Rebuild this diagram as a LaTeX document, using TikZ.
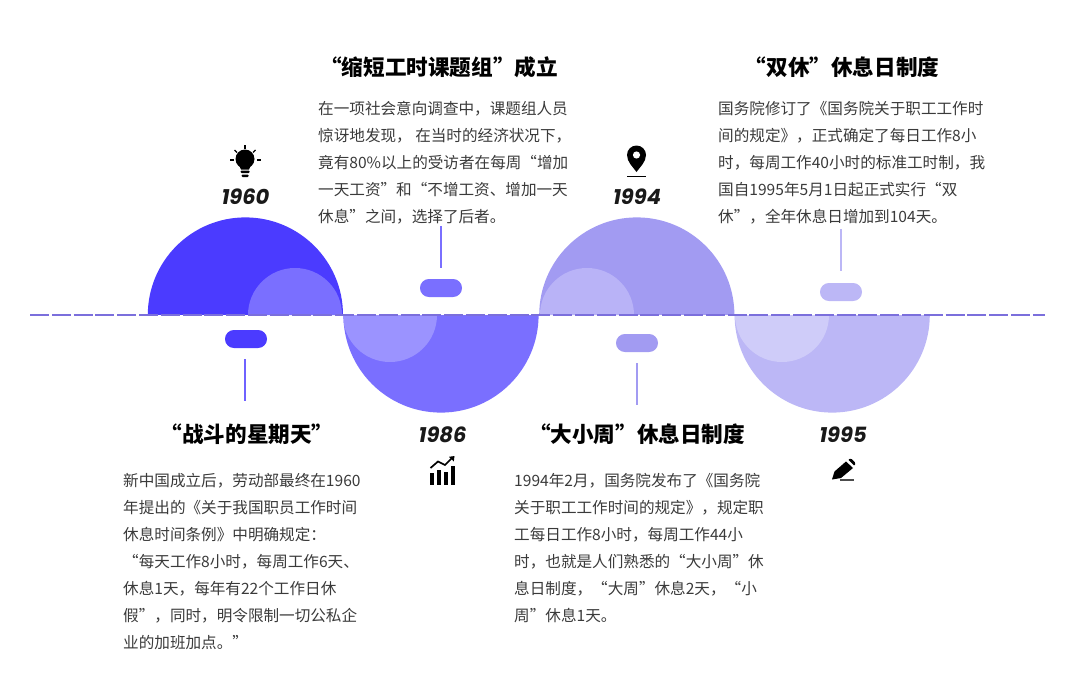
\documentclass[tikz,border=0pt]{standalone}
\usepackage{fontspec}
\newfontfamily\cjk{Noto Sans CJK SC}
\newfontfamily\yearfont{Poppins}
\usepackage{tikz}
\usetikzlibrary{arrows.meta}
\definecolor{blueA}{HTML}{4B3BFF}
\definecolor{blueB}{HTML}{7A6FFF}
\definecolor{blueC}{HTML}{9B93FF}
\definecolor{blueD}{HTML}{A29BF2}
\definecolor{blueE}{HTML}{B9B3F7}
\definecolor{blueF}{HTML}{BCB7F6}
\definecolor{blueG}{HTML}{CFCCF9}
\definecolor{axisline}{HTML}{7B6FDC}
\definecolor{bodygray}{HTML}{3A3A3A}
\tikzset{
  pill/.style={draw=none, rounded corners=8.9pt, minimum width=42pt, minimum height=18pt, inner sep=0pt},
  tick/.style={line width=1.2pt},
  title/.style={anchor=center, text=black, font=\fontsize{21.6}{24}\selectfont\cjk\bfseries},
  body/.style={anchor=north west, align=left, inner sep=0pt, text=bodygray, font=\fontsize{15.6}{27}\selectfont\cjk},
  year/.style={anchor=center, inner sep=0pt, text=black!90, font=\fontsize{21}{24}\selectfont\yearfont\bfseries\itshape},
}

\begin{document}
\begin{tikzpicture}[x=1pt, y=-1pt]
\useasboundingbox (0, 0) rectangle (1080, 677);

\begin{scope}
\clip (147.8, 315) arc[start angle=180, end angle=360, radius=97.6] -- cycle;
\fill[blueA] (147, 210) rectangle (344, 315);
\fill[blueB] (295, 315) circle (47);
\end{scope}
\begin{scope}
\clip (343.4, 315) arc[start angle=180, end angle=0, radius=97.6] -- cycle;
\fill[blueB] (343, 315) rectangle (540, 420);
\fill[blueC] (390, 315) circle (47);
\end{scope}
\begin{scope}
\clip (539.2, 315) arc[start angle=180, end angle=360, radius=97.6] -- cycle;
\fill[blueD] (539, 210) rectangle (736, 315);
\fill[blueE] (587, 315) circle (47);
\end{scope}
\begin{scope}
\clip (734.6, 315) arc[start angle=180, end angle=0, radius=97.6] -- cycle;
\fill[blueF] (734, 315) rectangle (931, 420);
\fill[blueG] (782, 315) circle (47);
\end{scope}

\coordinate (axis_l) at (30, 315);
\coordinate (axis_r) at (1045, 315);
\draw[axisline, line width=1.8pt, dash pattern=on 19pt off 2.8pt] (axis_l) -- (axis_r);

\node[pill, fill=blueA] (pill_1960) at (246, 339) {};
\node[pill, fill=blueB] (pill_1986) at (441, 288) {};
\node[pill, fill=blueD] (pill_1994) at (637, 343) {};
\node[pill, fill=blueF] (pill_1995) at (841, 292) {};

\coordinate (tick_1960a) at (245, 359);
\coordinate (tick_1960b) at (245, 401);
\coordinate (tick_1986a) at (441, 226);
\coordinate (tick_1986b) at (441, 268);
\coordinate (tick_1994a) at (637, 363);
\coordinate (tick_1994b) at (637, 405);
\coordinate (tick_1995a) at (841, 229);
\coordinate (tick_1995b) at (841, 271);
\draw[tick, blueA!80] (tick_1960a) -- (tick_1960b);
\draw[tick, blueB] (tick_1986a) -- (tick_1986b);
\draw[tick, blueD] (tick_1994a) -- (tick_1994b);
\draw[tick, blueF] (tick_1995a) -- (tick_1995b);

\node[year] (year_1960) at (245.5, 197) {1960};
\node[year] (year_1986) at (442.5, 435) {1986};
\node[year] (year_1994) at (637, 197) {1994};
\node[year] (year_1995) at (843, 435) {1995};

\node[title] (title_1960) at (247, 434) {“战斗的星期天”};
\node[title] (title_1986) at (439, 67) {“缩短工时课题组”成立};
\node[title] (title_1994) at (637, 434) {“大小周”休息日制度};
\node[title] (title_1995) at (842, 67) {“双休”休息日制度};

\node[body] (body_1960) at (123, 473) {新中国成立后，劳动部最终在1960\\
    年提出的《关于我国职员工作时间\\
    休息时间条例》中明确规定：\\
    “每天工作8小时，每周工作6天、\\
    休息1天，每年有22个工作日休\\
    假”，同时，明令限制一切公私企\\
    业的加班加点。”};
\node[body] (body_1986) at (318, 101) {在一项社会意向调查中，课题组人员\\
    惊讶地发现， 在当时的经济状况下，\\
    竟有80\%以上的受访者在每周“增加\\
    一天工资”和“不增工资、增加一天\\
    休息”之间，选择了后者。};
\node[body] (body_1994) at (514, 473) {1994年2月，国务院发布了《国务院\\
    关于职工工作时间的规定》，规定职\\
    工每日工作8小时，每周工作44小\\
    时，也就是人们熟悉的“大小周”休\\
    息日制度，“大周”休息2天，“小\\
    周”休息1天。};
\node[body] (body_1995) at (718, 101) {国务院修订了《国务院关于职工工作时\\
    间的规定》，正式确定了每日工作8小\\
    时，每周工作40小时的标准工时制，我\\
    国自1995年5月1日起正式实行“双\\
    休”，全年休息日增加到104天。};

\fill[black] (245, 159) circle (9.5);
\fill[black] (239, 165) -- (251, 165) -- (249, 169.5) -- (241, 169.5) -- cycle;
\fill[black, rounded corners=1pt] (240.5, 170.5) rectangle (249.5, 173);
\fill[black, rounded corners=1pt] (241.5, 174.5) rectangle (248.5, 177);
\draw[black, line width=1.4pt] (245, 145) -- (245, 148.5);
\draw[black, line width=1.4pt] (230, 160) -- (233.5, 160);
\draw[black, line width=1.4pt] (257, 160) -- (260.5, 160);
\draw[black, line width=1.4pt] (234.5, 150) -- (237, 152.5);
\draw[black, line width=1.4pt] (255.5, 150) -- (253, 152.5);

\fill[black] (627, 155) arc[start angle=180, end angle=360, radius=9.5]
    .. controls (646, 162) and (640, 167) .. (636.5, 172)
    .. controls (633, 167) and (627, 162) .. (627, 155) -- cycle;
\fill[white] (636.5, 155) circle (3.6);
\draw[black, line width=1.6pt] (627, 176.5) -- (646, 176.5);

\fill[black] (430, 473) rectangle (433.5, 484.5);
\fill[black] (436.5, 470) rectangle (440.5, 484.5);
\fill[black] (443.5, 472) rectangle (447.5, 484.5);
\fill[black] (450.5, 466) rectangle (455, 484.5);
\draw[black, line width=1.7pt] (430.5, 468) -- (438, 461.5) -- (445, 465) -- (452, 458);
\fill[black] (454.5, 456) -- (453.8, 461.5) -- (449, 456.8) -- cycle;

\fill[black] (832, 479.5) -- (834.5, 471.5) -- (846, 461.5) -- (853, 468) -- (841, 478) -- cycle;
\fill[black, rounded corners=1pt] (848, 459.5) -- (851, 458.5) -- (855.5, 463) -- (854.5, 466) -- cycle;
\draw[black!70, line width=1.1pt] (840, 480) -- (854, 480);
\end{tikzpicture}
\end{document}
